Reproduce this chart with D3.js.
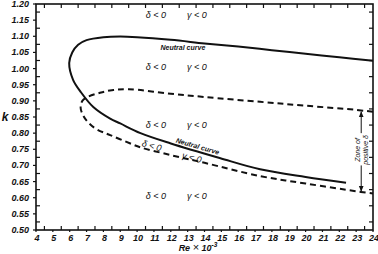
<!DOCTYPE html>
<html lang="en">

<head>
    <meta charset="UTF-8">
    <title>Neutral curve</title>
    <script src="https://d3js.org/d3.v7.min.js"></script>
    <style>
        body { margin: 0; background: #fff; }
        text { font-family: "Liberation Sans", Arial, sans-serif; font-style: italic; fill: #111; }
    </style>
</head>

<body>
    <svg width="378" height="254"></svg>
    <script>
        // Re x 10^-3 , k
        const xTicks = d3.range(4, 25, 1);
        const yTicks = d3.range(0.50, 1.201, 0.05);

        const neutralCurve = [
            [24, 1.024], [22, 1.035], [20, 1.046], [18, 1.057], [16, 1.068], [14, 1.078],
            [12, 1.089], [10, 1.097], [9, 1.099], [8, 1.097], [7, 1.088], [6.5, 1.074],
            [6.15, 1.05], [5.97, 1.017], [6.2, 0.965], [6.65, 0.928], [7.4, 0.881],
            [8.4, 0.845], [9, 0.83], [10.2, 0.80], [12, 0.768], [14.9, 0.723],
            [17.3, 0.688], [20, 0.664], [22.4, 0.646]
        ];

        const zeroDeltaCurve = [
            [24, 0.866], [23, 0.872], [20, 0.885], [17.3, 0.897], [14, 0.912], [12, 0.922],
            [9.5, 0.936], [8.5, 0.933], [7.8, 0.925], [7.1, 0.913], [6.75, 0.9],
            [6.65, 0.878], [6.8, 0.855], [7.1, 0.833], [7.6, 0.812], [8.4, 0.794],
            [9.6, 0.768], [10.2, 0.756], [12, 0.732], [14, 0.708], [17.3, 0.667],
            [20, 0.644], [23, 0.62], [24, 0.613]
        ];

        const regionLabel = ["δ < 0", "γ < 0"];

        const x = d3.scaleLinear().domain([4, 24]).range([36, 373]);
        const y = d3.scaleLinear().domain([0.5, 1.2]).range([230, 4]);

        const svg = d3.select('svg');

        svg.append('defs').append('marker')
            .attr('id', 'arr')
            .attr('viewBox', '0 0 10 10')
            .attr('refX', 9).attr('refY', 5)
            .attr('markerWidth', 6).attr('markerHeight', 6)
            .attr('orient', 'auto-start-reverse')
            .append('path')
            .attr('d', 'M0,1 L10,5 L0,9 z')
            .attr('fill', '#111');

        // frame
        svg.append('rect')
            .attr('x', x(4)).attr('y', y(1.2))
            .attr('width', x(24) - x(4)).attr('height', y(0.5) - y(1.2))
            .attr('fill', 'none').attr('stroke', '#111').attr('stroke-width', 1.6);

        // ticks: outward at labels, inward at half steps
        const half = d3.range(4.5, 24, 1);
        const yHalf = d3.range(0.525, 1.2, 0.05);
        const tk = svg.append('g').attr('stroke', '#111').attr('stroke-width', 1.2);
        tk.selectAll('.xb').data(half).enter().append('line')
            .attr('x1', d => x(d)).attr('x2', d => x(d))
            .attr('y1', y(0.5)).attr('y2', y(0.5) - 4);
        tk.selectAll('.xbo').data(xTicks).enter().append('line')
            .attr('x1', d => x(d)).attr('x2', d => x(d))
            .attr('y1', y(0.5)).attr('y2', y(0.5) + 2);
        tk.selectAll('.xt').data(half).enter().append('line')
            .attr('x1', d => x(d)).attr('x2', d => x(d))
            .attr('y1', y(1.2)).attr('y2', y(1.2) + 4);
        tk.selectAll('.yl').data(yHalf).enter().append('line')
            .attr('x1', x(4)).attr('x2', x(4) + 4)
            .attr('y1', d => y(d)).attr('y2', d => y(d));
        tk.selectAll('.ylo').data(yTicks).enter().append('line')
            .attr('x1', x(4)).attr('x2', x(4) - 3)
            .attr('y1', d => y(d)).attr('y2', d => y(d));
        tk.selectAll('.yr').data(yHalf).enter().append('line')
            .attr('x1', x(24)).attr('x2', x(24) - 4)
            .attr('y1', d => y(d)).attr('y2', d => y(d));

        // tick labels
        svg.selectAll('.xl').data(xTicks).enter().append('text')
            .attr('x', d => x(d) + 1).attr('y', y(0.5) + 11)
            .attr('text-anchor', 'middle')
            .attr('font-size', 9).attr('font-weight', 'bold')
            .text(d => d);
        svg.selectAll('.ylab').data(yTicks).enter().append('text')
            .attr('x', x(4) - 7).attr('y', d => y(d) + 3)
            .attr('text-anchor', 'end')
            .attr('font-size', 9).attr('font-weight', 'bold')
            .text(d => d.toFixed(2));

        svg.append('text')
            .attr('x', 198).attr('y', 251)
            .attr('text-anchor', 'middle')
            .attr('font-size', 9).attr('font-weight', 'bold')
            .html('Re <tspan font-style="normal" font-weight="normal" font-size="11">×</tspan> 10<tspan dy="-4" font-size="6.5">-3</tspan>');

        svg.append('text')
            .attr('x', 5).attr('y', 121)
            .attr('text-anchor', 'middle')
            .attr('font-size', 12).attr('font-weight', 'bold')
            .text('k');

        // curves
        const line = d3.line()
            .x(d => x(d[0]))
            .y(d => y(d[1]))
            .curve(d3.curveCatmullRom.alpha(0.5));

        svg.append('path')
            .datum(neutralCurve)
            .attr('fill', 'none').attr('stroke', '#111').attr('stroke-width', 2)
            .attr('d', line);

        svg.append('path')
            .datum(zeroDeltaCurve)
            .attr('fill', 'none').attr('stroke', '#111').attr('stroke-width', 2)
            .attr('stroke-dasharray', '6,4')
            .attr('d', line);

        // region labels
        const rows = [1.157, 0.996, 0.816, 0.596];
        rows.forEach(k => {
            svg.append('text').attr('x', x(11.12)).attr('y', y(k))
                .attr('text-anchor', 'middle').attr('font-size', 9).text(regionLabel[0]);
            svg.append('text').attr('x', x(13.55)).attr('y', y(k))
                .attr('text-anchor', 'middle').attr('font-size', 9).text(regionLabel[1]);
        });
        svg.append('text')
            .attr('transform', `translate(${x(10.82)},${y(0.752)}) rotate(15)`)
            .attr('text-anchor', 'middle').attr('font-size', 9).text(regionLabel[0]);
        svg.append('text')
            .attr('transform', `translate(${x(13.2)},${y(0.715)}) rotate(15)`)
            .attr('text-anchor', 'middle').attr('font-size', 9).text(regionLabel[1]);

        svg.append('text')
            .attr('x', x(12.72)).attr('y', y(1.057))
            .attr('text-anchor', 'middle').attr('font-size', 7).attr('font-weight', 'bold')
            .text('Neutral curve');
        svg.append('text')
            .attr('transform', `translate(${x(13.55)},${y(0.752)}) rotate(16)`)
            .attr('text-anchor', 'middle').attr('font-size', 7).attr('font-weight', 'bold')
            .text('Neutral curve');

        // zone of positive delta
        const zx = x(23.3);
        svg.append('line')
            .attr('x1', zx).attr('x2', zx)
            .attr('y1', y(0.80)).attr('y2', y(0.866))
            .attr('stroke', '#111').attr('stroke-width', 1)
            .attr('marker-end', 'url(#arr)');
        svg.append('line')
            .attr('x1', zx).attr('x2', zx)
            .attr('y1', y(0.70)).attr('y2', y(0.62))
            .attr('stroke', '#111').attr('stroke-width', 1)
            .attr('marker-end', 'url(#arr)');
        const zt = svg.append('text')
            .attr('transform', `translate(${zx},${y(0.748)}) rotate(-90)`)
            .attr('text-anchor', 'middle').attr('font-size', 7);
        zt.append('tspan').attr('x', 0).attr('dy', -1).text('Zone of');
        zt.append('tspan').attr('x', 0).attr('dy', 8).text('positive δ');
    </script>
</body>

</html>
